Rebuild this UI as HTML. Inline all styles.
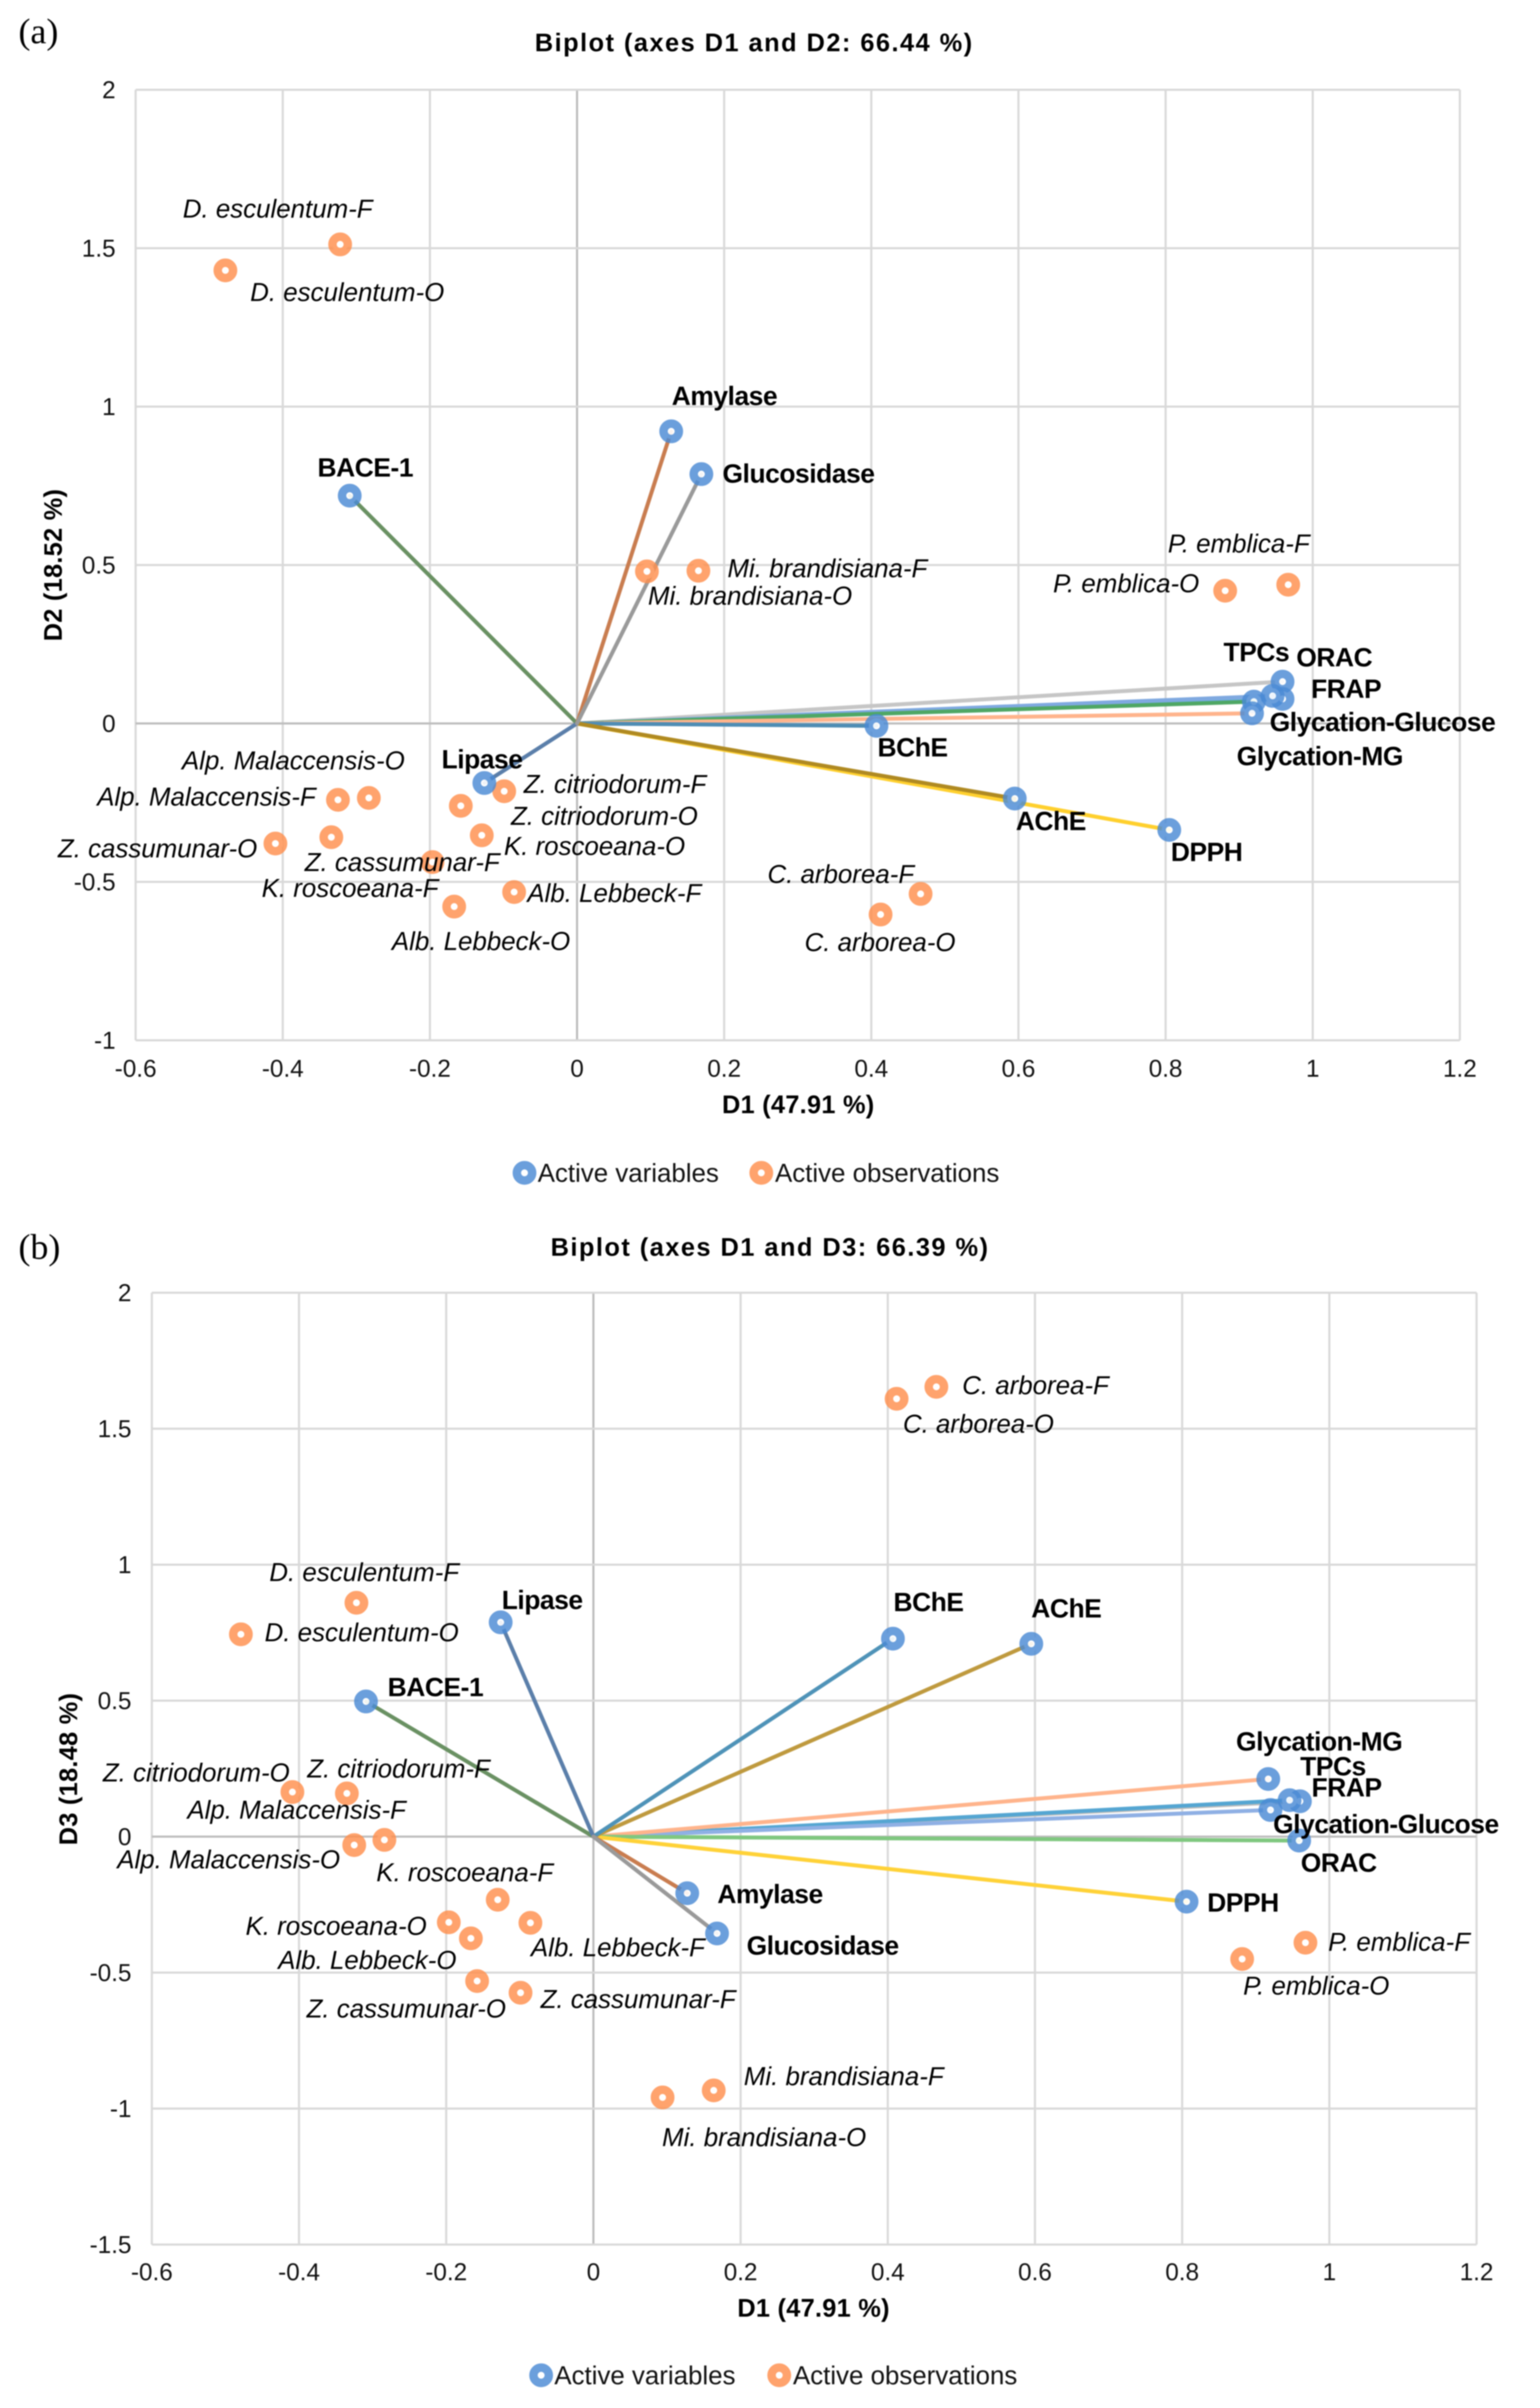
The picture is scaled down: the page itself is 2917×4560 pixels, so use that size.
<!DOCTYPE html>
<html lang="en">
<head>
<meta charset="utf-8">
<title>Biplots of D1/D2 and D1/D3</title>
<style>
html,body{margin:0;padding:0;background:#fff;}
body{width:2917px;height:4560px;overflow:hidden;}
svg{display:block;filter:blur(1px);}
text{font-family:"Liberation Sans",Arial,sans-serif;fill:#000;}
.obs{font-style:italic;font-size:49px;}
.var{font-weight:bold;font-size:50px;letter-spacing:-0.85px;}
.tick{font-size:46px;fill:#111;}
.title{font-weight:bold;font-size:48px;letter-spacing:2.8px;}
.axt{font-weight:bold;font-size:48px;letter-spacing:0.5px;}
.leg{font-size:49px;fill:#111;}
.panel{font-family:"Liberation Serif",serif;font-size:68px;fill:#000;}
</style>
</head>
<body>
<svg id="figure" xmlns="http://www.w3.org/2000/svg" width="2917" height="4560" viewBox="0 0 2917 4560">
  <rect width="2917" height="4560" fill="#ffffff"/>
  <text class="panel" x="35" y="82">(a)</text>
  <text class="panel" x="35" y="2384">(b)</text>
  <g id="chart-a"></g>
  <g id="chart-b"></g>
</svg>
<script>
// ---- shared data ----
const xTicks = [-0.6, -0.4, -0.2, 0, 0.2, 0.4, 0.6, 0.8, 1, 1.2];
const yTicksA = [2, 1.5, 1, 0.5, 0, -0.5, -1];
const yTicksB = [2, 1.5, 1, 0.5, 0, -0.5, -1, -1.5];

// ---- panel (a): variables ----
const varNamesA = ['ORAC','FRAP','TPCs','Glycation-Glucose','Glycation-MG','BChE','DPPH','AChE','BACE-1','Lipase','Amylase','Glucosidase'];
const varD1A = [0.959, 0.959, 0.9455, 0.92, 0.9175, 0.407, 0.805, 0.595, -0.309, -0.126, 0.128, 0.169];
const varD2A = [0.132, 0.0775, 0.087, 0.069, 0.032, -0.0075, -0.336, -0.237, 0.719, -0.188, 0.922, 0.787];

// ---- panel (a): observations ----
const obsNamesA = ['D. esculentum-F','D. esculentum-O','Mi. brandisiana-F','Mi. brandisiana-O','P. emblica-F','P. emblica-O','C. arborea-F','C. arborea-O','Z. citriodorum-F','Z. citriodorum-O','K. roscoeana-O','Z. cassumunar-F','Alb. Lebbeck-F','Alb. Lebbeck-O','Alp. Malaccensis-O','Alp. Malaccensis-F','K. roscoeana-F','Z. cassumunar-O'];
const obsD1A = [-0.322, -0.478, 0.165, 0.095, 0.9667, 0.881, 0.467, 0.4126, -0.099, -0.158, -0.1295, -0.1965, -0.0855, -0.167, -0.283, -0.325, -0.334, -0.41];
const obsD2A = [1.512, 1.43, 0.482, 0.48, 0.438, 0.419, -0.538, -0.603, -0.214, -0.26, -0.353, -0.4375, -0.532, -0.578, -0.235, -0.241, -0.359, -0.379];

// ---- panel (b): variables ----
const varNamesB = ['FRAP','TPCs','Glycation-Glucose','Glycation-MG','ORAC','DPPH','AChE','BChE','BACE-1','Lipase','Amylase','Glucosidase'];
const varD1B = [0.96, 0.946, 0.92, 0.917, 0.959, 0.806, 0.595, 0.407, -0.309, -0.126, 0.1275, 0.168];
const varD3B = [0.13, 0.134, 0.098, 0.212, -0.0146, -0.239, 0.709, 0.728, 0.497, 0.788, -0.208, -0.356];

// ---- panel (b): observations ----
const obsNamesB = ['C. arborea-F','C. arborea-O','D. esculentum-F','D. esculentum-O','Z. citriodorum-O','Z. citriodorum-F','Alp. Malaccensis-F','Alp. Malaccensis-O','K. roscoeana-F','Alb. Lebbeck-F','K. roscoeana-O','Alb. Lebbeck-O','Z. cassumunar-O','Z. cassumunar-F','Mi. brandisiana-O','Mi. brandisiana-F','P. emblica-F','P. emblica-O'];
const obsD1B = [0.466, 0.412, -0.322, -0.479, -0.409, -0.335, -0.325, -0.284, -0.13, -0.0856, -0.1965, -0.1665, -0.158, -0.099, 0.094, 0.1635, 0.9675, 0.8815];
const obsD3B = [1.654, 1.61, 0.86, 0.744, 0.164, 0.159, -0.031, -0.012, -0.232, -0.317, -0.315, -0.374, -0.531, -0.574, -0.959, -0.933, -0.39, -0.45];

// ---- styling and layout, kept apart from the data ----
const lineColorsA = ['#c6c6c6','#6aaee0','#7fa9e0','#4fa765','#ffb48c','#4f8db4','#ffd02e','#b08a22','#6a9163','#5b7faa','#c97d50','#9a9a9a'];
const lineColorsB = ['#bdbdbd','#55a6d2','#8fb0e4','#ffb48c','#80c880','#ffd238','#bf9a3f','#4f93b8','#6a9163','#5b7faa','#c97d50','#9a9a9a'];

// label offsets from each marker centre: [dx to text start, dy to text middle]
const varOffsetsA = [[26,-47],[54,-20],[-93,-84],[30,38],[-29,80],[2,40],[3,41],[2,42],[-61,-54],[-81,-46],[1,-68],[40,-2]];
const obsOffsetsA = [[-298,-68],[47,41],[55,-5],[2,46],[-228,-78],[-326,-14],[-290,-38],[-144,52],[37,-14],[95,19],[42,20],[-242,0],[25,2],[-118,65],[-354,-71],[-456,-6],[-132,96],[-412,9]];
const varOffsetsB = [[22,-27],[20,-65],[5,26],[-61,-72],[3,41],[39,1],[0,-68],[1,-70],[41,-28],[2,-43],[57,1],[56,22]];
const obsOffsetsB = [[49,-3],[12,47],[-165,-58],[45,-4],[-359,-37],[-75,-47],[-316,-67],[-506,37],[-230,-52],[1,46],[-385,7],[-365,41],[-323,52],[38,12],[-1,75],[57,-27],[43,-2],[2,50]];

const SVG_NS = 'http://www.w3.org/2000/svg';
function slug(s){ return s.toLowerCase().replace(/[^a-z0-9]+/g,'-').replace(/^-|-$/g,''); }
function mk(tag, parent, attrs, txt){
  const e = document.createElementNS(SVG_NS, tag);
  for (const k in attrs) e.setAttribute(k, attrs[k]);
  if (txt !== undefined) e.textContent = txt;
  parent.appendChild(e);
  return e;
}
function marker(parent, cx, cy, color){
  return mk('circle', parent, {cx:cx, cy:cy, r:14.5, fill:'#ffffff', 'fill-opacity':0.9, stroke:color, 'stroke-width':16, 'stroke-opacity':0.82});
}

function drawChart(c){
  const root = document.getElementById(c.id);
  const sx = v => c.x0 + c.kx * v;
  const sy = v => c.y0 - c.ky * v;
  const yMax = Math.max.apply(null, c.yTicks), yMin = Math.min.apply(null, c.yTicks);
  const xMax = Math.max.apply(null, xTicks), xMin = Math.min.apply(null, xTicks);

  // gridlines: non-zero first, zero axes on top
  xTicks.slice().sort(t => t === 0 ? 1 : -1).forEach(t => {
    const el = mk('line', root, {x1:sx(t), x2:sx(t), y1:sy(yMax), y2:sy(yMin), stroke:t===0?'#bdbdbd':'#d9d9d9', 'stroke-width':4});
    
    
  });
  c.yTicks.slice().sort(t => t === 0 ? 1 : -1).forEach(t => {
    const el = mk('line', root, {x1:sx(xMin), x2:sx(xMax), y1:sy(t), y2:sy(t), stroke:t===0?'#bdbdbd':'#d9d9d9', 'stroke-width':4});
    
    
  });

  // tick labels
  xTicks.forEach(t => {
    const el = mk('text', root, {class:'tick', x:sx(t), y:c.xTickY + 16, 'text-anchor':'middle'}, String(t));
    
    
  });
  c.yTicks.forEach(t => {
    const el = mk('text', root, {class:'tick', x:c.yTickX, y:sy(t) + 16, 'text-anchor':'end'}, String(t));
    
    
  });

  // loading vectors from the origin
  c.varNames.forEach((n, i) => {
    const el = mk('line', root, {x1:sx(0), y1:sy(0), x2:sx(c.varX[i]), y2:sy(c.varY[i]), stroke:c.colors[i], 'stroke-width':7.5, 'stroke-linecap':'round'});
    
    
  });

  // observation markers
  c.obsNames.forEach((n, i) => {
    const el = marker(root, sx(c.obsX[i]), sy(c.obsY[i]), '#ff8f4d');
    
    
  });
  // variable markers
  c.varNames.forEach((n, i) => {
    const el = marker(root, sx(c.varX[i]), sy(c.varY[i]), '#4a8ad4');
    
    
  });

  // data labels
  c.obsNames.forEach((n, i) => {
    const el = mk('text', root, {class:'obs', x:sx(c.obsX[i]) + c.obsOff[i][0], y:sy(c.obsY[i]) + c.obsOff[i][1] + 17}, n);
    
    
  });
  c.varNames.forEach((n, i) => {
    const el = mk('text', root, {class:'var', x:sx(c.varX[i]) + c.varOff[i][0], y:sy(c.varY[i]) + c.varOff[i][1] + 18}, n);
    
    
  });

  // titles
  const title = mk('text', root, {class:'title', x:c.titleX, y:c.titleY}, c.title);
  
  
  const xt = mk('text', root, {class:'axt', x:c.xTitleX, y:c.xTitleY + 17, 'text-anchor':'middle'}, c.xTitle);
  
  
  const yt = mk('text', root, {class:'axt', x:0, y:0, 'text-anchor':'middle', transform:'translate(' + (c.yTitleX + 17) + ' ' + c.yTitleY + ') rotate(-90)'}, c.yTitle);
  
  

  // legend
  const m1 = marker(root, c.legM1, c.legY, '#4a8ad4');
  
  
  const t1 = mk('text', root, {class:'leg', x:c.legM1 + 25, y:c.legY + 17}, 'Active variables');
  
  
  const m2 = marker(root, c.legM2, c.legY, '#ff8f4d');
  
  
  const t2 = mk('text', root, {class:'leg', x:c.legM2 + 26, y:c.legY + 17}, 'Active observations');
  
  
}

drawChart({
  id:'chart-a', x0:1093, kx:1393.5, y0:1370, ky:600,
  yTicks:yTicksA, xTickY:2023, yTickX:219,
  varNames:varNamesA, varX:varD1A, varY:varD2A, colors:lineColorsA, varOff:varOffsetsA,
  obsNames:obsNamesA, obsX:obsD1A, obsY:obsD2A, obsOff:obsOffsetsA,
  title:'Biplot (axes D1 and D2: 66.44 %)', titleX:1013, titleY:97,
  xTitle:'D1 (47.91 %)', xTitleX:1512, xTitleY:2091,
  yTitle:'D2 (18.52 %)', yTitleX:100, yTitleY:1070,
  legM1:993.5, legM2:1442, legY:2221
});
drawChart({
  id:'chart-b', x0:1124, kx:1394, y0:3478, ky:515,
  yTicks:yTicksB, xTickY:4302, yTickX:249,
  varNames:varNamesB, varX:varD1B, varY:varD3B, colors:lineColorsB, varOff:varOffsetsB,
  obsNames:obsNamesB, obsX:obsD1B, obsY:obsD3B, obsOff:obsOffsetsB,
  title:'Biplot (axes D1 and D3: 66.39 %)', titleX:1043, titleY:2378,
  xTitle:'D1 (47.91 %)', xTitleX:1541, xTitleY:4370,
  yTitle:'D3 (18.48 %)', yTitleX:129, yTitleY:3350,
  legM1:1025, legM2:1476, legY:4498
});
</script>
</body>
</html>
